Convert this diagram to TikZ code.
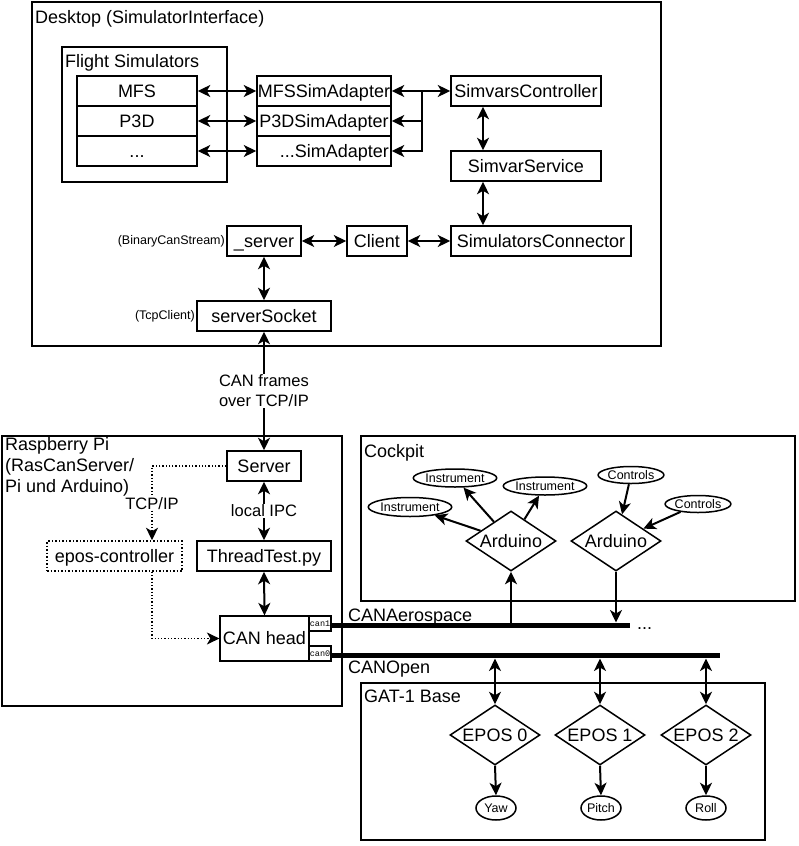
\documentclass[tikz,border=0pt]{standalone}
\usepackage{fontspec}
\setmainfont{Liberation Sans}
\setmonofont{Liberation Mono}
\usetikzlibrary{arrows.meta,shapes.geometric}
\begin{document}
\begin{tikzpicture}[x=1pt,y=-1pt,
  >={Stealth[length=12.5pt,width=12pt,inset=3.5pt]},
  big/.style={font=\fontsize{18}{21}\selectfont},
  lbl/.style={font=\fontsize{16.5}{20}\selectfont},
  small/.style={font=\fontsize{12.5}{14}\selectfont},
  box/.style={draw, line width=1.5pt, inner sep=0pt, big, text height=13pt, text depth=1pt},
  frame/.style={draw, line width=1.5pt, inner sep=0pt},
  ell/.style={draw, ellipse, line width=1.5pt, inner sep=0pt, small},
  dia/.style={draw, diamond, shape aspect=1.5, line width=1.5pt, inner sep=0pt, minimum width=90pt, minimum height=60pt, big},
  con/.style={<->, line width=2pt},
  one/.style={->, line width=2pt},
  dotline/.style={dotted, line width=1.3pt},
  bus/.style={line width=5.5pt},
  canport/.style={draw, line width=1.2pt, inner sep=0pt, minimum width=22pt, minimum height=15pt, font=\ttfamily\fontsize{8.5}{9}\selectfont},
  elabel/.style={lbl, fill=white, inner sep=1pt, align=center}
]
\useasboundingbox (0,0) rectangle (798,846);

% containers
\node[frame, minimum width=629pt, minimum height=344pt] (desktop) at (346.5,174) {};
\node[big, anchor=base west, inner sep=0pt] (desktoplbl) at (35,23) {Desktop (SimulatorInterface)};
\node[frame, minimum width=165pt, minimum height=135pt] (flightsim) at (144.5,114.5) {};
\node[big, anchor=base west, inner sep=0pt] (flightlbl) at (65,67) {Flight Simulators};
\node[frame, minimum width=340pt, minimum height=270pt] (rpi) at (172,571) {};
\node[big, anchor=north west, inner sep=0pt, align=left] (rpilbl) at (5,437) {Raspberry Pi\\(RasCanServer/\\Pi und Arduino)};
\node[frame, minimum width=434pt, minimum height=165pt] (cockpit) at (578,518.5) {};
\node[big, anchor=base west, inner sep=0pt] (cockpitlbl) at (364,457) {Cockpit};
\node[frame, minimum width=404pt, minimum height=157pt] (gat) at (563,761.5) {};
\node[big, anchor=base west, inner sep=0pt] (gatlbl) at (364,702) {GAT-1 Base};

% simulators
\node[box, minimum width=120pt, minimum height=30pt] (mfs) at (137,91) {MFS};
\node[box, minimum width=120pt, minimum height=30pt] (p3d) at (137,121) {P3D};
\node[box, minimum width=120pt, minimum height=30pt] (dots) at (137,151) {...};
% adapters
\node[box, minimum width=134pt, minimum height=30pt] (mfsad) at (324,91) {MFSSimAdapter};
\node[box, minimum width=134pt, minimum height=30pt] (p3dad) at (324,121) {P3DSimAdapter};
\node[box, minimum width=134pt, minimum height=30pt] (dotsad) at (324,151) {};
\node[big, anchor=base east, inner sep=0pt] (dotsadtxt) at (389,157) {...SimAdapter};

\node[box, minimum width=150pt, minimum height=30pt] (simvars) at (526,91) {SimvarsController};
\node[box, minimum width=150pt, minimum height=30pt] (simsrv) at (526,166) {SimvarService};
\node[box, minimum width=180pt, minimum height=30pt] (simcon) at (541,241) {SimulatorsConnector};
\node[box, minimum width=74pt, minimum height=30pt] (server) at (264,241) {\_server};
\node[box, minimum width=60pt, minimum height=30pt] (client) at (377,241) {Client};
\node[box, minimum width=134pt, minimum height=30pt] (socket) at (264,316) {serverSocket};
\node[small, anchor=east, inner sep=0pt] (bcs) at (225,241) {(BinaryCanStream)};
\node[small, anchor=east, inner sep=0pt] (tcpc) at (195,316) {(TcpClient)};

% raspberry
\node[box, minimum width=74pt, minimum height=30pt] (rserver) at (264,466) {Server};
\node[box, minimum width=134pt, minimum height=30pt] (thread) at (264,556) {ThreadTest.py};
\node[box, dotted, minimum width=135pt, minimum height=30pt] (epos) at (114.5,556) {epos-controller};
\node[box, line width=1.2pt, minimum width=89pt, minimum height=45pt] (canhead) at (264.5,638.5) {CAN head};
\node[canport] (can1) at (320,623.5) {can1};
\node[canport] (can0) at (320,653.5) {can0};

% cockpit
\node[dia] (ard1) at (511,541) {Arduino};
\node[dia] (ard2) at (616,541) {Arduino};
\node[ell, minimum width=67pt, minimum height=19pt] (inst1) at (410,507) {Instrument};
\node[ell, minimum width=68pt, minimum height=18pt] (inst2) at (455,478) {Instrument};
\node[ell, minimum width=68pt, minimum height=18pt] (inst3) at (545,486) {Instrument};
\node[ell, minimum width=61pt, minimum height=17pt] (ctrl1) at (631,475) {Controls};
\node[ell, minimum width=61pt, minimum height=17pt] (ctrl2) at (698,504) {Controls};

% GAT base
\node[dia] (e0) at (495,735) {EPOS 0};
\node[dia] (e1) at (600,735) {EPOS 1};
\node[dia] (e2) at (706,735) {EPOS 2};
\node[ell, minimum width=40pt, minimum height=24pt] (yaw) at (496,808) {Yaw};
\node[ell, minimum width=40pt, minimum height=24pt] (pitch) at (601,808) {Pitch};
\node[ell, minimum width=40pt, minimum height=24pt] (roll) at (706,808) {Roll};

% buses
\coordinate (aeroA) at (331,625.5);
\coordinate (aeroB) at (630,625.5);
\coordinate (openA) at (331,655.5);
\coordinate (openB) at (720,655.5);
\draw[bus] (aeroA) -- (aeroB);
\draw[bus] (openA) -- (openB);
\node[big, anchor=base west, inner sep=0pt] (aerolbl) at (348,621) {CANAerospace};
\node[big, anchor=base west, inner sep=0pt] (openlbl) at (348,673) {CANOpen};
\node[big, anchor=base west, inner sep=0pt] (aerodots) at (637,629) {...};

% connectors desktop
\draw[<->, line width=2.2pt] (mfs.east) -- (mfsad.west);
\draw[<->, line width=1.6pt] (p3d.east) -- (p3dad.west);
\draw[<->, line width=1.1pt] (dots.east) -- (dotsad.west);
\draw[con] (mfsad.east) -- (simvars.west);
\coordinate (br) at (422,91);
\draw[one] (br) |- (p3dad.east);
\draw[one] (br) |- (dotsad.east);
\draw[con] ([xshift=-43pt]simvars.south) -- ([xshift=-43pt]simsrv.north);
\draw[con] ([xshift=-43pt]simsrv.south) -- ([xshift=-58pt]simcon.north);
\draw[<->, line width=1.1pt] (server.east) -- (client.west);
\draw[con] (client.east) -- (simcon.west);
\draw[con] (server.south) -- (socket.north);
\draw[con] (socket.south) -- node[elabel] {CAN frames\\over TCP/IP} (rserver.north);

% raspberry connectors
\draw[con] (rserver.south) -- node[elabel] {local IPC} (thread.north);
\draw[con] (thread.south) -- (canhead.north);
\draw[dotline, ->] (rserver.west) -| node[elabel, pos=0.75] {TCP/IP} ([xshift=37.5pt]epos.north);
\draw[dotline, ->] ([xshift=37.5pt]epos.south) |- (canhead.west);

% cockpit connectors
\draw[one] (ard1) -- (inst1);
\draw[one] (ard1) -- (inst2);
\draw[one] (ard1) -- (inst3);
\draw[one] (ctrl1) -- (ard2);
\draw[one] (ctrl2) -- (ard2);
\draw[one] (ard1.south |- aeroA) -- (ard1.south);
\draw[one, shorten >=3pt] (ard2.south) -- (ard2.south |- aeroA);

% GAT connectors
\draw[<->, line width=1.1pt, shorten <=3pt] (e0.north |- openA) -- (e0.north);
\draw[con, shorten <=3pt] (e1.north |- openA) -- (e1.north);
\draw[con, shorten <=3pt] (e2.north |- openA) -- (e2.north);
\draw[one] (e0.south) -- (yaw.north);
\draw[one] (e1.south) -- (pitch.north);
\draw[one] (e2.south) -- (roll.north);
\end{tikzpicture}
\end{document}
